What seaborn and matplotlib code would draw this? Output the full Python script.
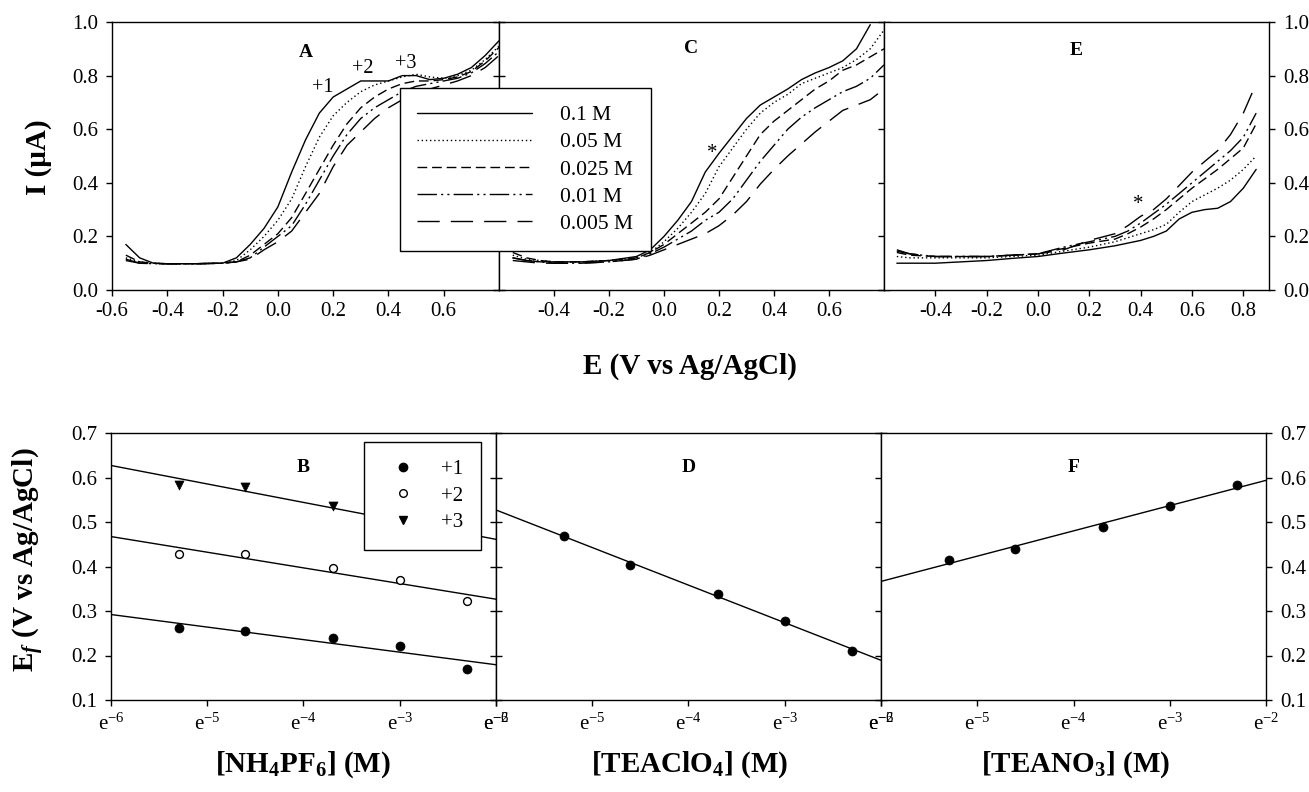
import numpy as np
import matplotlib
matplotlib.use("Agg")
import matplotlib.pyplot as plt
import seaborn as sns
from matplotlib.ticker import FixedLocator, FixedFormatter, NullLocator
from matplotlib.lines import Line2D

# ---------------- data ----------------
conc_labels = ["0.1 M", "0.05 M", "0.025 M", "0.01 M", "0.005 M"]

# Panel A : NH4PF6
E_A = [-0.55, -0.5, -0.45, -0.4, -0.3, -0.2, -0.15, -0.1, -0.05, 0.0, 0.05, 0.1, 0.15,
       0.2, 0.25, 0.3, 0.35, 0.4, 0.45, 0.5, 0.55, 0.6, 0.65, 0.7, 0.75, 0.8]
A_01 = [0.17, 0.12, 0.10, 0.098, 0.098, 0.10, 0.12, 0.17, 0.23, 0.31, 0.44, 0.56, 0.66,
        0.72, 0.75, 0.78, 0.78, 0.78, 0.80, 0.80, 0.785, 0.79, 0.805, 0.83, 0.875, 0.93]
A_005 = [0.12, 0.105, 0.10, 0.098, 0.098, 0.10, 0.11, 0.15, 0.20, 0.26, 0.34, 0.46, 0.57,
         0.65, 0.70, 0.74, 0.765, 0.78, 0.795, 0.805, 0.795, 0.79, 0.80, 0.82, 0.86, 0.91]
A_0025 = [0.13, 0.105, 0.10, 0.098, 0.098, 0.10, 0.105, 0.13, 0.17, 0.21, 0.27, 0.36, 0.45,
          0.54, 0.62, 0.68, 0.72, 0.75, 0.77, 0.78, 0.78, 0.785, 0.795, 0.815, 0.855, 0.905]
A_001 = [0.115, 0.10, 0.098, 0.098, 0.098, 0.10, 0.105, 0.12, 0.16, 0.20, 0.24, 0.32, 0.41,
         0.50, 0.58, 0.64, 0.68, 0.71, 0.74, 0.76, 0.77, 0.78, 0.79, 0.81, 0.845, 0.89]
A_0005 = [0.11, 0.10, 0.098, 0.098, 0.098, 0.10, 0.105, 0.115, 0.15, 0.18, 0.22, 0.29, 0.36,
          0.46, 0.54, 0.59, 0.64, 0.68, 0.71, 0.73, 0.75, 0.765, 0.78, 0.80, 0.83, 0.875]

# Panel C : TEAClO4
E_C = [-0.55, -0.5, -0.45, -0.4, -0.3, -0.2, -0.1, -0.05, 0.0, 0.05, 0.1, 0.15, 0.2,
       0.25, 0.3, 0.35, 0.4, 0.45, 0.5, 0.55, 0.6, 0.65, 0.7, 0.75, 0.8]
C_01 = [0.12, 0.11, 0.105, 0.105, 0.105, 0.11, 0.125, 0.15, 0.20, 0.26, 0.33, 0.44, 0.51,
        0.575, 0.64, 0.69, 0.72, 0.75, 0.785, 0.81, 0.83, 0.855, 0.90, 0.99, np.nan]
C_005 = [0.13, 0.115, 0.11, 0.105, 0.105, 0.11, 0.12, 0.14, 0.18, 0.23, 0.29, 0.36, 0.46,
         0.53, 0.60, 0.66, 0.70, 0.73, 0.77, 0.79, 0.81, 0.83, 0.86, 0.90, 0.97]
C_0025 = [0.14, 0.12, 0.11, 0.105, 0.105, 0.11, 0.12, 0.14, 0.17, 0.21, 0.25, 0.29, 0.34,
          0.42, 0.50, 0.58, 0.63, 0.67, 0.71, 0.75, 0.78, 0.82, 0.84, 0.87, 0.90]
C_001 = [0.12, 0.11, 0.105, 0.10, 0.10, 0.105, 0.115, 0.135, 0.16, 0.19, 0.22, 0.26, 0.29,
         0.34, 0.41, 0.48, 0.54, 0.60, 0.645, 0.68, 0.71, 0.74, 0.76, 0.79, 0.84]
C_0005 = [0.11, 0.105, 0.10, 0.10, 0.10, 0.105, 0.115, 0.13, 0.15, 0.17, 0.19, 0.21, 0.24,
          0.28, 0.33, 0.395, 0.45, 0.50, 0.545, 0.59, 0.63, 0.67, 0.69, 0.71, 0.75]

# Panel E : TEANO3
E_E = [-0.55, -0.5, -0.4, -0.3, -0.2, -0.1, 0.0, 0.1, 0.2, 0.3, 0.35, 0.4, 0.45, 0.5,
       0.55, 0.6, 0.65, 0.7, 0.75, 0.8, 0.85]
E_01 = [0.10, 0.10, 0.10, 0.105, 0.11, 0.118, 0.125, 0.138, 0.15, 0.165, 0.175, 0.185, 0.20,
        0.22, 0.265, 0.29, 0.30, 0.305, 0.33, 0.38, 0.45]
E_005 = [0.125, 0.12, 0.12, 0.12, 0.12, 0.125, 0.13, 0.145, 0.16, 0.18, 0.195, 0.21, 0.225,
         0.245, 0.29, 0.33, 0.355, 0.38, 0.41, 0.45, 0.50]
E_0025 = [0.14, 0.13, 0.125, 0.125, 0.125, 0.13, 0.135, 0.155, 0.175, 0.19, 0.21, 0.235, 0.265,
          0.30, 0.34, 0.38, 0.415, 0.45, 0.49, 0.53, 0.62]
E_001 = [0.145, 0.135, 0.125, 0.125, 0.125, 0.13, 0.135, 0.16, 0.18, 0.20, 0.22, 0.25, 0.285,
         0.32, 0.36, 0.40, 0.44, 0.48, 0.52, 0.57, 0.66]
E_0005 = [0.15, 0.135, 0.125, 0.125, 0.125, 0.13, 0.135, 0.15, 0.185, 0.21, 0.24, 0.275, 0.30,
          0.34, 0.39, 0.44, 0.48, 0.52, 0.58, 0.66, 0.77]

# Bottom panels: formal potential vs electrolyte concentration
conc = [0.005, 0.01, 0.025, 0.05, 0.1]
B_plus1 = [0.261, 0.256, 0.239, 0.221, 0.170]
B_plus2 = [0.428, 0.428, 0.397, 0.370, 0.3225]
B_plus3 = [0.583, 0.578, 0.536]
B_plus3_fit_ends = [0.627, 0.461]   # fitted line at e^-6 and e^-2
D_vals = [0.469, 0.403, 0.3375, 0.2775, 0.210]
F_vals = [0.4146, 0.440, 0.4895, 0.5366, 0.5825]
log_ticks = [-6, -5, -4, -3, -2]

# ---------------- style ----------------
sns.set_theme(style="ticks")
plt.rcParams.update({
    "font.family": ["Liberation Serif", "DejaVu Serif"],
    "mathtext.fontset": "custom",
    "mathtext.rm": "Liberation Serif",
    "mathtext.it": "Liberation Serif:italic",
    "mathtext.bf": "Liberation Serif:bold",
    "axes.unicode_minus": False,
    "axes.edgecolor": "black",
    "axes.linewidth": 1.0,
    "xtick.color": "black",
    "ytick.color": "black",
    "text.color": "black",
    "axes.facecolor": "white",
})
try:
    plt.rcParams["mathtext.bfit"] = "Liberation Serif:italic:bold"
except KeyError:
    pass

styles = ["-", (0, (1, 2)), (0, (7, 3.5)), (0, (14, 3, 1.5, 3, 1.5, 3)), (0, (16, 8))]

W, H = 1309, 792
fig = plt.figure(figsize=(W / 100, H / 100), dpi=100)


def rect(l, t, r, b):
    return [l / W, 1 - b / H, (r - l) / W, (b - t) / H]


axA = fig.add_axes(rect(112, 22, 499, 290))
axC = fig.add_axes(rect(499, 22, 884, 290))
axE = fig.add_axes(rect(884, 22, 1269, 290))
axB = fig.add_axes(rect(111, 433, 496, 700))
axD = fig.add_axes(rect(496, 433, 881, 700))
axF = fig.add_axes(rect(881, 433, 1266, 700))

TICK_FS = 15

# ---------------- top row ----------------
top_sets = [
    (axA, E_A, [A_01, A_005, A_0025, A_001, A_0005], (-0.6, 0.8), [-0.6, -0.4, -0.2, 0.0, 0.2, 0.4, 0.6]),
    (axC, E_C, [C_01, C_005, C_0025, C_001, C_0005], (-0.6, 0.8), [-0.4, -0.2, 0.0, 0.2, 0.4, 0.6]),
    (axE, E_E, [E_01, E_005, E_0025, E_001, E_0005], (-0.6, 0.9), [-0.4, -0.2, 0.0, 0.2, 0.4, 0.6, 0.8]),
]
legend_handles = []
for ax, xs, series, xlim, xt in top_sets:
    for lab, ys, ls in zip(conc_labels, series, styles):
        sns.lineplot(x=xs, y=ys, ax=ax, color="black", linewidth=1.0, linestyle=ls,
                     sort=False, estimator=None)
        if ax is axA:
            legend_handles.append(Line2D([], [], color="black", linewidth=1.0, linestyle=ls))
    ax.set_xlim(*xlim)
    ax.set_ylim(0, 1.0)
    ax.xaxis.set_major_locator(FixedLocator(xt))
    ax.xaxis.set_major_formatter(FixedFormatter([f"{v:.1f}" for v in xt]))
    ax.xaxis.set_minor_locator(NullLocator())
    ax.tick_params(axis="x", direction="out", length=4, width=1, labelsize=TICK_FS, pad=5,
                   top=False, bottom=True)
    ax.set_xlabel("")
    ax.set_ylabel("")
    ax.yaxis.set_major_locator(FixedLocator([0.0, 0.2, 0.4, 0.6, 0.8, 1.0]))
    ax.yaxis.set_major_formatter(FixedFormatter([f"{v:.1f}" for v in [0.0, 0.2, 0.4, 0.6, 0.8, 1.0]]))
    for s in ax.spines.values():
        s.set_visible(True)
        s.set_linewidth(1.0)

# ---------------- bottom row ----------------
xmin, xmax = np.exp(log_ticks[0]), np.exp(log_ticks[-1])
for ax in (axB, axD, axF):
    ax.set_xscale("log", base=np.e)
    ax.set_xlim(xmin, xmax)
    ax.set_ylim(0.1, 0.7)

line_kws = dict(color="black", linewidth=1.0)
sns.regplot(x=conc, y=B_plus1, ax=axB, logx=True, ci=None, truncate=False, scatter=False, line_kws=line_kws)
sns.regplot(x=conc, y=B_plus2, ax=axB, logx=True, ci=None, truncate=False, scatter=False, line_kws=line_kws)
sns.lineplot(x=[xmin, xmax], y=B_plus3_fit_ends, ax=axB, color="black", linewidth=1.0)
sns.regplot(x=conc, y=D_vals, ax=axD, logx=True, ci=None, truncate=False, scatter=False, line_kws=line_kws)
sns.regplot(x=conc, y=F_vals, ax=axF, logx=True, ci=None, truncate=False, scatter=False, line_kws=line_kws)

sns.scatterplot(x=conc, y=B_plus1, ax=axB, marker="o", s=42, color="black", edgecolor="black", zorder=4)
sns.scatterplot(x=conc, y=B_plus2, ax=axB, marker="o", s=32, facecolor="white", edgecolor="black",
                linewidth=1.0, zorder=4)
sns.scatterplot(x=conc[:3], y=B_plus3, ax=axB, marker="v", s=42, color="black", edgecolor="black", zorder=4)
sns.scatterplot(x=conc, y=D_vals, ax=axD, marker="o", s=42, color="black", edgecolor="black", zorder=4)
sns.scatterplot(x=conc, y=F_vals, ax=axF, marker="o", s=42, color="black", edgecolor="black", zorder=4)

bt = [0.1, 0.2, 0.3, 0.4, 0.5, 0.6, 0.7]
for ax in (axB, axD, axF):
    ax.set_xlim(xmin, xmax)
    ax.set_ylim(0.1, 0.7)
    ax.xaxis.set_major_locator(FixedLocator(np.exp(log_ticks)))
    ax.xaxis.set_major_formatter(FixedFormatter([r"e$^{%d}$" % t for t in log_ticks]))
    ax.xaxis.set_minor_locator(NullLocator())
    ax.tick_params(axis="x", which="both", direction="out", length=4, width=1, labelsize=TICK_FS,
                   pad=6, top=False, bottom=True)
    ax.yaxis.set_major_locator(FixedLocator(bt))
    ax.yaxis.set_major_formatter(FixedFormatter([f"{v:.1f}" for v in bt]))
    ax.set_xlabel("")
    ax.set_ylabel("")
    for s in ax.spines.values():
        s.set_visible(True)
        s.set_linewidth(1.0)

# y tick arrangement: outer axes labelled, shared borders crossed ticks
for ax in (axA, axB):
    ax.tick_params(axis="y", direction="out", length=4, width=1, left=True, right=False,
                   labelleft=True, labelright=False, labelsize=TICK_FS, pad=6)
for ax in (axC, axD):
    ax.tick_params(axis="y", direction="inout", length=8, width=1, left=True, right=True,
                   labelleft=False, labelright=False)
for ax in (axE, axF):
    ax.tick_params(axis="y", direction="out", length=4, width=1, left=False, right=True,
                   labelleft=False, labelright=True, labelsize=TICK_FS, pad=6)

# ---------------- annotations ----------------
for ax, letter, yf in [(axA, "A", 0.888), (axC, "C", 0.90), (axE, "E", 0.895),
                       (axB, "B", 0.869), (axD, "D", 0.869), (axF, "F", 0.869)]:
    ax.text(0.5, yf, letter, transform=ax.transAxes, ha="center", va="center",
            fontsize=14, fontweight="bold")

axA.text(0.164, 0.757, "+1", ha="center", va="center", fontsize=14.5)
axA.text(0.306, 0.825, "+2", ha="center", va="center", fontsize=14.5)
axA.text(0.463, 0.847, "+3", ha="center", va="center", fontsize=14.5)
axC.text(0.175, 0.51, "*", ha="center", va="center", fontsize=15)
axE.text(0.392, 0.32, "*", ha="center", va="center", fontsize=15)

# legends
leg = fig.legend(legend_handles, conc_labels, loc="upper left",
                 bbox_to_anchor=(400 / W, 1 - 88 / H), bbox_transform=fig.transFigure,
                 borderaxespad=0, frameon=True, fancybox=False, framealpha=1,
                 edgecolor="black", fontsize=15.5, handlelength=5.35, handletextpad=1.3,
                 borderpad=0.8, labelspacing=0.33)
leg.get_frame().set_linewidth(1.0)

mk_handles = [
    Line2D([], [], linestyle="none", marker="o", markersize=6, color="black"),
    Line2D([], [], linestyle="none", marker="o", markersize=5.5, markerfacecolor="white",
           markeredgecolor="black", markeredgewidth=1.0),
    Line2D([], [], linestyle="none", marker="v", markersize=6, color="black"),
]
leg2 = fig.legend(mk_handles, ["+1", "+2", "+3"], loc="upper left",
                  bbox_to_anchor=(364 / W, 1 - 442 / H), bbox_transform=fig.transFigure,
                  borderaxespad=0, frameon=True, fancybox=False, framealpha=1,
                  edgecolor="black", fontsize=15, handlelength=2.0, handletextpad=0.85,
                  borderpad=0.85, labelspacing=0.33)
leg2.get_frame().set_linewidth(1.0)

# axis titles
fig.text(38 / W, 1 - 157 / H, "I (\u03bcA)", rotation=90, ha="center", va="center",
         fontsize=21, fontweight="bold")
fig.text(690 / W, 1 - 366 / H, "E (V vs Ag/AgCl)", ha="center", va="center",
         fontsize=21, fontweight="bold")
fig.text(28 / W, 1 - 560 / H, r"E$_{\mathbfit{f}}$ (V vs Ag/AgCl)", rotation=90,
         ha="center", va="center", fontsize=21, fontweight="bold")
fig.text(303 / W, 1 - 765 / H, r"[NH$_{\mathbf{4}}$PF$_{\mathbf{6}}$] (M)", ha="center",
         va="center", fontsize=21, fontweight="bold")
fig.text(690 / W, 1 - 765 / H, r"[TEAClO$_{\mathbf{4}}$] (M)", ha="center",
         va="center", fontsize=21, fontweight="bold")
fig.text(1076 / W, 1 - 765 / H, r"[TEANO$_{\mathbf{3}}$] (M)", ha="center",
         va="center", fontsize=21, fontweight="bold")

fig.savefig("out.png", dpi=100, facecolor="white")
